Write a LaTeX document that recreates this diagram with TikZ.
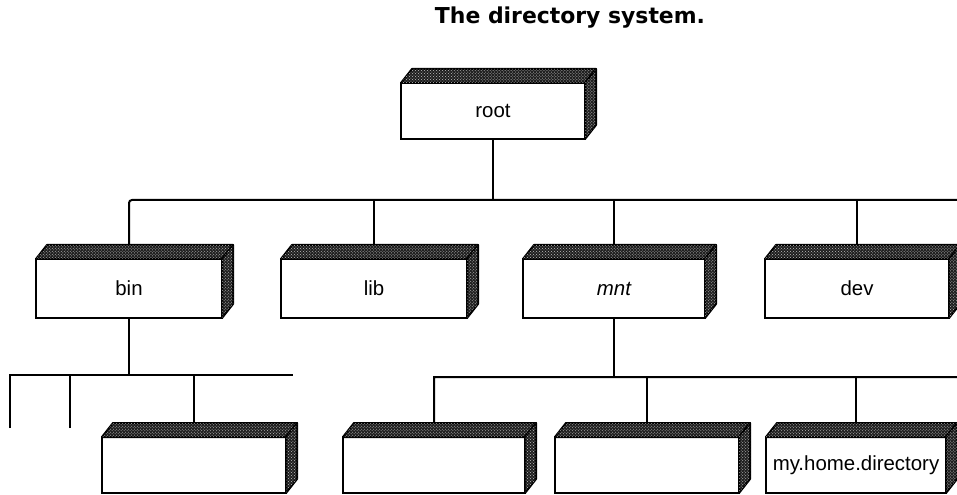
\documentclass[tikz,border=0pt]{standalone}
\usepackage{fontspec}
\setmainfont{DejaVu Sans}
\newfontfamily\boxfont{Liberation Sans}
\usetikzlibrary{calc,patterns}
\tikzset{
  front/.style={draw, line width=2bp, fill=white, inner sep=0pt, outer sep=0pt,
    anchor=north west, font=\boxfont\fontsize{20.5}{23}\selectfont},
  shadeface/.style={fill=black!88, draw, line width=2bp, line join=round},
  speck/.style={pattern=crosshatch dots, pattern color=white!75!black},
  link/.style={line width=2bp},
}
\newcommand{\dirbox}[6]{%
  \node[front, minimum width=#4bp, minimum height=#5bp] (#1) at (#2,#3) {#6};
  \path[shadeface] (#1.north west) -- ++(11,-14) -- ++(#4,0) -- (#1.north east) -- cycle;
  \fill[speck] (#1.north west) -- ++(11,-14) -- ++(#4,0) -- (#1.north east) -- cycle;
  \path[shadeface] (#1.north east) -- ++(11,-14) -- ++(0,#5) -- (#1.south east) -- cycle;
  \fill[speck] (#1.north east) -- ++(11,-14) -- ++(0,#5) -- (#1.south east) -- cycle;
  \coordinate (#1t) at ($(#1.north)+(0,-14)$);
}
\begin{document}
\begin{tikzpicture}[x=1bp,y=-1bp]
\useasboundingbox (0,0) rectangle (957,495);
\node[font=\fontsize{22}{26}\selectfont\bfseries, anchor=base] (title) at (570,24) {The directory system.};

\dirbox{root}{401}{83}{184}{56}{root}
\dirbox{bin}{36}{259}{186}{59}{bin}
\dirbox{lib}{281}{259}{186}{59}{lib}
\dirbox{mnt}{523}{259}{182}{59}{\itshape mnt}
\dirbox{dev}{765}{259}{184}{59}{dev}
\dirbox{la}{102}{437}{184}{56}{}
\dirbox{lb}{343}{437}{182}{56}{}
\dirbox{lc}{555}{437}{184}{56}{}
\dirbox{ld}{766}{437}{180}{56}{my.home.directory}

% first level bus
\coordinate (b1L) at (129,200);
\coordinate (b1R) at (957,200);
\draw[link] (root.south) -- (root.south |- b1R);
\draw[link, rounded corners=3bp] (bint) -- (b1L) -- (b1R);
\draw[link] (libt) -- (libt |- b1R);
\draw[link] (mntt) -- (mntt |- b1R);
\draw[link] (devt) -- (devt |- b1R);

% bin bus
\coordinate (b2L) at (10,375);
\coordinate (b2R) at (293,375);
\coordinate (f1) at (10,428);
\coordinate (f2) at (70,428);
\draw[link] (bin.south) -- (bin.south |- b2R);
\draw[link] (f1) -- (b2L) -- (b2R);
\draw[link] (f2) -- (f2 |- b2R);
\draw[link] (lat) -- (lat |- b2R);

% mnt bus
\coordinate (b3L) at (434,377);
\coordinate (b3R) at (957,377);
\draw[link] (mnt.south) -- (mnt.south |- b3R);
\draw[link] (lbt) -- (b3L) -- (b3R);
\draw[link] (lct) -- (lct |- b3R);
\draw[link] (ldt) -- (ldt |- b3R);
\end{tikzpicture}
\end{document}
